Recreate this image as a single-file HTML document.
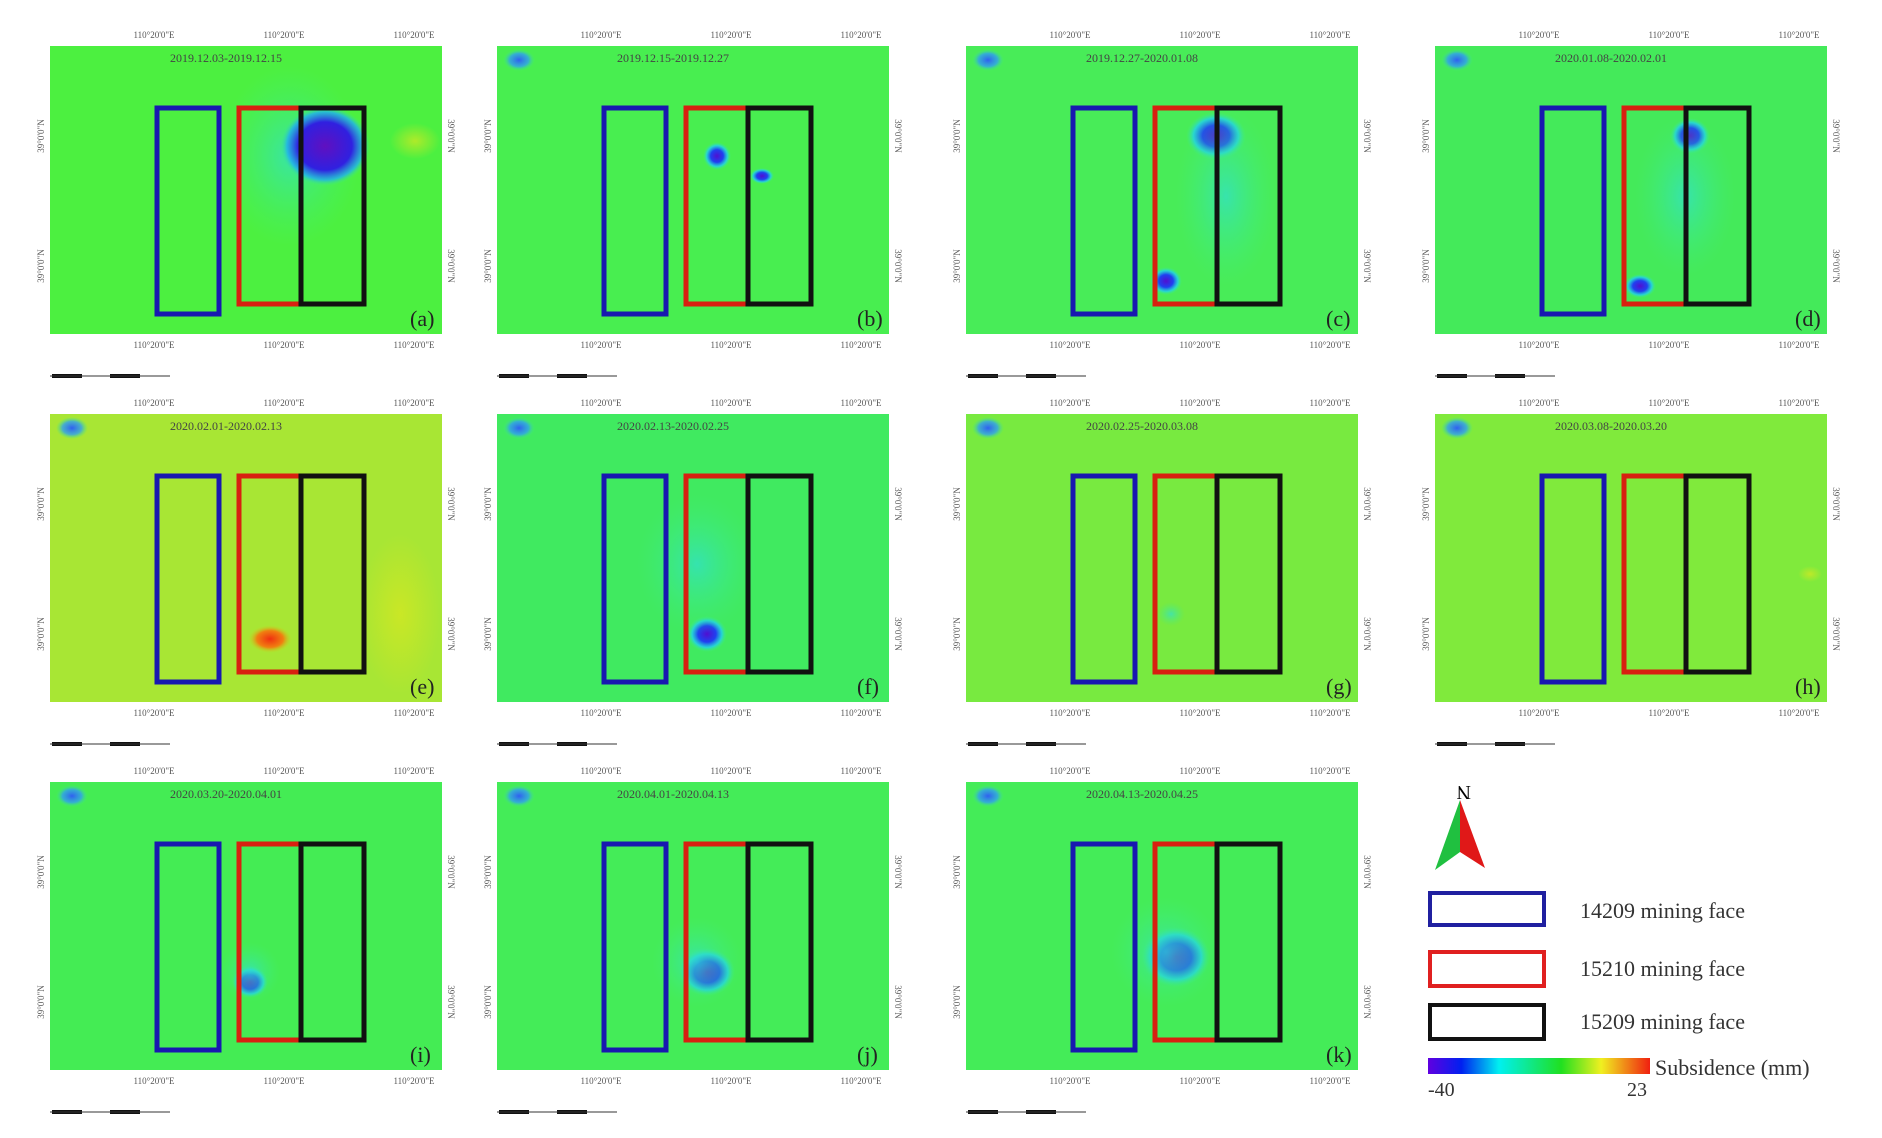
<!DOCTYPE html>
<html><head><meta charset="utf-8"><style>
body{margin:0;background:#fff;width:1882px;height:1133px;overflow:hidden;font-family:"Liberation Serif",serif}
</style></head><body>
<svg id="s" width="1882" height="1133" xmlns="http://www.w3.org/2000/svg">
<defs>
<radialGradient id="bl"><stop offset="0" stop-color="#5010d0"/><stop offset="0.45" stop-color="#2040f0"/><stop offset="0.75" stop-color="#20d0f0" stop-opacity="0.8"/><stop offset="1" stop-color="#40f080" stop-opacity="0"/></radialGradient>
<radialGradient id="pu"><stop offset="0" stop-color="#6010c0"/><stop offset="0.6" stop-color="#3020e0"/><stop offset="0.85" stop-color="#20b0f0" stop-opacity="0.8"/><stop offset="1" stop-color="#40f080" stop-opacity="0"/></radialGradient>
<radialGradient id="cy"><stop offset="0" stop-color="#30e0d0" stop-opacity="0.7"/><stop offset="1" stop-color="#40f080" stop-opacity="0"/></radialGradient>
<radialGradient id="rd"><stop offset="0" stop-color="#f03010"/><stop offset="0.6" stop-color="#f08010"/><stop offset="1" stop-color="#c0e020" stop-opacity="0"/></radialGradient>
<radialGradient id="yl"><stop offset="0" stop-color="#d8e820" stop-opacity="0.7"/><stop offset="1" stop-color="#d8e820" stop-opacity="0"/></radialGradient>
<radialGradient id="tl"><stop offset="0" stop-color="#3060f0"/><stop offset="0.6" stop-color="#30a0f0" stop-opacity="0.8"/><stop offset="1" stop-color="#40f080" stop-opacity="0"/></radialGradient>
<linearGradient id="cb"><stop offset="0" stop-color="#6000e0"/><stop offset="0.15" stop-color="#0020f0"/><stop offset="0.32" stop-color="#00f0f0"/><stop offset="0.6" stop-color="#20e020"/><stop offset="0.78" stop-color="#f0f020"/><stop offset="1" stop-color="#f02010"/></linearGradient>
</defs>
<g id="p"></g>
<polygon points="1460,800 1435,870 1460,852" fill="#20c040"/>
<polygon points="1460,800 1485,868 1460,852" fill="#e01818"/>
<text x="1455" y="800" font-size="20" transform="rotate(180 1463 793)">N</text>
<rect x="1430" y="893" width="114" height="32" fill="none" stroke="#2020a0" stroke-width="4"/>
<rect x="1430" y="952" width="114" height="34" fill="none" stroke="#e02020" stroke-width="4"/>
<rect x="1430" y="1005" width="114" height="34" fill="none" stroke="#111" stroke-width="4"/>
<text x="1580" y="918" font-size="22" fill="#333">14209 mining face</text>
<text x="1580" y="976" font-size="22" fill="#333">15210 mining face</text>
<text x="1580" y="1029" font-size="22" fill="#333">15209 mining face</text>
<rect x="1428" y="1058" width="222" height="16" fill="url(#cb)"/>
<text x="1655" y="1075" font-size="22" fill="#333">Subsidence (mm)</text>
<text x="1428" y="1096" font-size="20" fill="#333">-40</text>
<text x="1627" y="1096" font-size="20" fill="#333">23</text>
</svg>
<script>
var cols=[50,497,966,1435],rows=[46,414,782],W=392,H=288;
var bg=['#4cf040','#48ee50','#48ec58','#44ea5a','#a8e634','#40ea60','#78ea40','#80ea3c','#44ec54','#44ec58','#44ec58'];
var lab=['a','b','c','d','e','f','g','h','i','j','k'];
var dates=['2019.12.03-2019.12.15','2019.12.15-2019.12.27','2019.12.27-2020.01.08','2020.01.08-2020.02.01','2020.02.01-2020.02.13','2020.02.13-2020.02.25','2020.02.25-2020.03.08','2020.03.08-2020.03.20','2020.03.20-2020.04.01','2020.04.01-2020.04.13','2020.04.13-2020.04.25'];
var blobs=[[[240,110,70,90,'cy'],[275,100,45,40,'pu'],[365,95,25,18,'yl']],[[220,110,14,14,'bl'],[265,130,12,8,'bl']],[[250,90,30,24,'bl'],[200,235,16,14,'bl'],[260,150,50,90,'cy']],[[255,90,20,18,'bl'],[205,240,16,12,'bl'],[250,150,50,80,'cy']],[[220,225,22,14,'rd'],[350,200,40,80,'yl']],[[210,220,20,18,'bl'],[200,150,60,70,'cy']],[[205,200,14,12,'cy']],[[375,160,12,8,'yl']],[[200,200,18,16,'bl'],[200,190,30,30,'cy']],[[210,190,28,24,'bl'],[200,180,45,45,'cy']],[[210,175,34,30,'bl'],[200,170,55,55,'cy']]];
var g='';
for(var i=0;i<11;i++){var x=cols[i%4],y=rows[Math.floor(i/4)];
g+='<rect x="'+x+'" y="'+y+'" width="'+W+'" height="'+H+'" fill="'+bg[i]+'"/>';
if(i>0)g+='<ellipse cx="'+(x+22)+'" cy="'+(y+14)+'" rx="16" ry="11" fill="url(#tl)"/>';
blobs[i].forEach(function(b){g+='<ellipse cx="'+(x+b[0])+'" cy="'+(y+b[1])+'" rx="'+b[2]+'" ry="'+b[3]+'" fill="url(#'+b[4]+')"/>';});
g+='<rect x="'+(x+107)+'" y="'+(y+62)+'" width="62" height="206" fill="none" stroke="#1818b0" stroke-width="5"/>';
g+='<rect x="'+(x+189)+'" y="'+(y+62)+'" width="62" height="196" fill="none" stroke="#d82010" stroke-width="5"/>';
g+='<rect x="'+(x+251)+'" y="'+(y+62)+'" width="63" height="196" fill="none" stroke="#111" stroke-width="5"/>';
g+='<text x="'+(x+120)+'" y="'+(y+16)+'" font-size="12" fill="#444">'+dates[i]+'</text>';
g+='<text x="'+(x+360)+'" y="'+(y+280)+'" font-size="22" fill="#222">('+lab[i]+')</text>';
[104,234,364].forEach(function(t){g+='<text x="'+(x+t)+'" y="'+(y-8)+'" font-size="9" fill="#555" text-anchor="middle">110°20\'0"E</text><text x="'+(x+t)+'" y="'+(y+H+14)+'" font-size="9" fill="#555" text-anchor="middle">110°20\'0"E</text>';});
[90,220].forEach(function(t){var ly=y+t;g+='<text x="'+(x-6)+'" y="'+ly+'" font-size="9" fill="#555" text-anchor="middle" transform="rotate(-90 '+(x-6)+' '+ly+')">39°0\'0"N</text><text x="'+(x+W+6)+'" y="'+ly+'" font-size="9" fill="#555" text-anchor="middle" transform="rotate(90 '+(x+W+6)+' '+ly+')">39°0\'0"N</text>';});
g+='<rect x="'+(x+2)+'" y="'+(y+H+40)+'" width="30" height="4" fill="#111"/><rect x="'+(x+60)+'" y="'+(y+H+40)+'" width="30" height="4" fill="#111"/><line x1="'+x+'" y1="'+(y+H+42)+'" x2="'+(x+120)+'" y2="'+(y+H+42)+'" stroke="#333"/>';
}
document.getElementById('p').innerHTML=g;
</script>
</body></html>
